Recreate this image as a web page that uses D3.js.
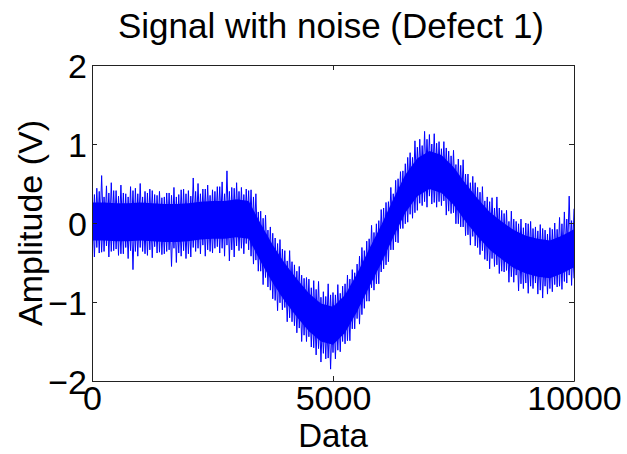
<!DOCTYPE html>
<html>
<head>
<meta charset="utf-8">
<script src="https://cdn.jsdelivr.net/npm/d3@7"></script>
<style>
  html, body { margin: 0; padding: 0; background: #fff; }
  svg { display: block; }
  text { font-family: "Liberation Sans", Arial, Helvetica, sans-serif; fill: #000; }
</style>
</head>
<body>
<svg id="chart" width="627" height="454"></svg>
<script>
// ---------------- data ----------------
const titleText = "Signal with noise (Defect 1)";
const xLabelText = "Data";
const yLabelText = "Amplitude (V)";
const xTicks = [0, 5000, 10000];
const yTicks = [-2, -1, 0, 1, 2];
const xDomain = [0, 10000];
const yDomain = [-2, 2];

// dense core of the noisy band, every 250 samples (0 ... 10000)
const coreSamples = d3.range(0, 10001, 250);
const coreUpper = [0.26,0.26,0.25,0.25,0.26,0.25,0.24,0.24,0.25,0.27,0.28,0.28,0.30,0.28,-0.01,-0.28,-0.51,-0.71,-0.89,-1.02,-1.06,-0.91,-0.64,-0.33,-0.03,0.30,0.61,0.82,0.91,0.86,0.71,0.50,0.31,0.14,0.02,-0.09,-0.16,-0.20,-0.22,-0.16,-0.08];
const coreLower = [-0.22,-0.22,-0.23,-0.23,-0.22,-0.23,-0.24,-0.24,-0.23,-0.21,-0.20,-0.20,-0.18,-0.20,-0.49,-0.76,-0.99,-1.19,-1.37,-1.50,-1.54,-1.39,-1.12,-0.81,-0.51,-0.18,0.13,0.34,0.43,0.38,0.23,0.02,-0.17,-0.34,-0.46,-0.57,-0.64,-0.68,-0.70,-0.64,-0.56];

// large noise peaks, every 100 samples (0 ... 10000)
const peakSamples = d3.range(0, 10001, 100);
const spikeHigh = [
  0.40,0.44,0.60,0.47,0.51,0.41,0.48,0.37,0.46,0.44,
  0.50,0.40,0.43,0.36,0.40,0.33,0.38,0.45,0.36,0.43,
  0.41,0.57,0.50,0.43,0.48,0.42,0.46,0.52,0.66,0.45,
  0.51,0.45,0.43,0.42,0.37,0.15,0.10,-0.05,-0.19,-0.21,
  -0.35,-0.35,-0.53,-0.55,-0.70,-0.71,-0.73,-0.74,-0.87,-0.77,
  -0.88,-0.78,-0.80,-0.66,-0.59,-0.52,-0.31,-0.23,-0.03,-0.01,
  0.17,0.26,0.45,0.54,0.65,0.75,0.89,1.04,1.06,1.16,
  1.12,1.13,1.03,1.03,0.91,0.92,0.81,0.80,0.62,0.59,
  0.45,0.46,0.33,0.32,0.33,0.16,0.16,0.15,0.02,0.05,
  0.00,0.02,-0.05,-0.02,-0.09,-0.06,0.00,0.07,0.14,0.34,0.18];
// small noise troughs at the same samples
const smallLow = [
  -0.34,-0.31,-0.37,-0.29,-0.36,-0.33,-0.39,-0.31,-0.35,-0.36,
  -0.31,-0.39,-0.34,-0.30,-0.37,-0.39,-0.34,-0.32,-0.38,-0.35,
  -0.39,-0.31,-0.32,-0.28,-0.34,-0.38,-0.30,-0.32,-0.28,-0.34,
  -0.29,-0.32,-0.26,-0.42,-0.47,-0.61,-0.69,-0.85,-0.98,-1.01,
  -1.07,-1.20,-1.30,-1.33,-1.42,-1.44,-1.58,-1.59,-1.65,-1.71,
  -1.64,-1.61,-1.50,-1.49,-1.34,-1.21,-1.16,-0.99,-0.82,-0.77,
  -0.62,-0.53,-0.34,-0.24,-0.07,-0.01,0.11,0.13,0.25,0.27,
  0.34,0.26,0.27,0.28,0.15,0.13,-0.01,-0.05,-0.15,-0.17,
  -0.31,-0.35,-0.48,-0.45,-0.53,-0.61,-0.60,-0.68,-0.66,-0.77,
  -0.76,-0.80,-0.76,-0.85,-0.80,-0.83,-0.78,-0.80,-0.74,-0.66,-0.70];

// samples half-way between (50 ... 9950)
const midSamples = d3.range(50, 10000, 100);
// large noise troughs
const spikeLow = [
  -0.43,-0.38,-0.36,-0.43,-0.35,-0.41,-0.39,-0.45,-0.59,-0.42,
  -0.36,-0.41,-0.44,-0.38,-0.40,-0.36,-0.55,-0.50,-0.42,-0.45,
  -0.43,-0.36,-0.39,-0.42,-0.36,-0.32,-0.38,-0.42,-0.48,-0.43,
  -0.35,-0.39,-0.34,-0.52,-0.61,-0.78,-0.81,-0.96,-1.11,-1.10,
  -1.25,-1.25,-1.39,-1.50,-1.50,-1.57,-1.67,-1.76,-1.72,-1.85,
  -1.72,-1.63,-1.53,-1.49,-1.34,-1.28,-1.08,-0.99,-0.85,-0.77,
  -0.58,-0.49,-0.34,-0.25,-0.07,0.01,0.06,0.16,0.22,0.20,
  0.24,0.20,0.22,0.10,0.12,-0.01,-0.05,-0.16,-0.28,-0.29,
  -0.40,-0.46,-0.58,-0.55,-0.64,-0.62,-0.75,-0.75,-0.86,-0.83,
  -0.89,-0.83,-0.90,-0.95,-0.90,-0.87,-0.81,-0.84,-0.76,-0.79];
// small noise peaks at the half-way samples
const smallHigh = [
  0.36,0.40,0.33,0.38,0.41,0.34,0.38,0.33,0.41,0.37,
  0.33,0.38,0.41,0.35,0.32,0.38,0.35,0.33,0.42,0.37,
  0.34,0.40,0.37,0.43,0.35,0.40,0.46,0.37,0.40,0.44,
  0.40,0.36,0.41,0.33,0.14,0.06,-0.09,-0.13,-0.26,-0.33,
  -0.48,-0.49,-0.61,-0.66,-0.69,-0.82,-0.84,-0.94,-0.93,-0.91,
  -0.91,-0.89,-0.77,-0.71,-0.63,-0.42,-0.35,-0.20,-0.12,0.03,
  0.19,0.27,0.37,0.56,0.66,0.83,0.83,0.96,0.98,1.06,
  1.00,1.01,0.94,0.95,0.85,0.74,0.73,0.62,0.51,0.51,
  0.39,0.28,0.27,0.19,0.19,0.12,0.02,0.05,-0.01,-0.06,
  -0.01,-0.07,-0.10,-0.07,-0.14,-0.08,-0.08,-0.01,0.05,0.03];

// ---------------- layout ----------------
const plot = { left: 92, right: 574, top: 65, bottom: 381 };
const lineColor = "#0000ff";

const svg = d3.select("#chart");
const x = d3.scaleLinear().domain(xDomain).range([plot.left, plot.right]);
const y = d3.scaleLinear().domain(yDomain).range([plot.bottom, plot.top]);

svg.append("defs").append("clipPath").attr("id", "clip")
  .append("rect")
  .attr("x", plot.left).attr("y", plot.top)
  .attr("width", plot.right - plot.left).attr("height", plot.bottom - plot.top);

const g = svg.append("g").attr("clip-path", "url(#clip)");

function zigzag(aSamples, aVals, bSamples, bVals) {
  const pts = [];
  aSamples.forEach((s, i) => {
    pts.push({ s, v: aVals[i] });
    if (i < bSamples.length) pts.push({ s: bSamples[i], v: bVals[i] });
  });
  return pts;
}
const lineGen = d3.line().x(d => x(d.s)).y(d => y(d.v));

// large-amplitude trace (tall spikes), drawn first
g.append("path")
  .datum(zigzag(peakSamples, spikeHigh, midSamples, spikeLow))
  .attr("fill", "none")
  .attr("stroke", lineColor)
  .attr("stroke-width", 1)
  .attr("d", lineGen);

// small-amplitude trace (ragged band edge)
g.append("path")
  .datum(zigzag(peakSamples, smallLow, midSamples, smallHigh))
  .attr("fill", "none")
  .attr("stroke", lineColor)
  .attr("stroke-width", 1)
  .attr("d", lineGen);

// solid core band on top
const core = coreSamples.map((s, i) => ({ s, hi: coreUpper[i], lo: coreLower[i] }));
g.append("path")
  .datum(core)
  .attr("fill", lineColor)
  .attr("stroke", "none")
  .attr("d", d3.area().x(d => x(d.s)).y0(d => y(d.lo)).y1(d => y(d.hi)));

// ---------------- axes ----------------
const tickLen = 5;
const fontTick = 34;

const axB = svg.append("g").attr("transform", `translate(0,${plot.bottom})`)
  .call(d3.axisBottom(x).tickValues(xTicks).tickFormat(d3.format("d")).tickSizeInner(-tickLen).tickSizeOuter(0).tickPadding(2));
const axT = svg.append("g").attr("transform", `translate(0,${plot.top})`)
  .call(d3.axisTop(x).tickValues(xTicks).tickFormat("").tickSizeInner(-tickLen).tickSizeOuter(0));
const axL = svg.append("g").attr("transform", `translate(${plot.left},0)`)
  .call(d3.axisLeft(y).tickValues(yTicks).tickFormat(d3.format("d")).tickSizeInner(-tickLen).tickSizeOuter(0).tickPadding(5));
const axR = svg.append("g").attr("transform", `translate(${plot.right},0)`)
  .call(d3.axisRight(y).tickValues(yTicks).tickFormat("").tickSizeInner(-tickLen).tickSizeOuter(0));

[axB, axT, axL, axR].forEach(a => {
  a.select(".domain").attr("stroke", "#222").attr("stroke-width", 1);
  a.selectAll(".tick line").attr("stroke", "#222").attr("stroke-width", 1);
  a.selectAll(".tick text").attr("font-size", fontTick).attr("fill", "#000")
    .style("font-family", '"Liberation Sans", Arial, sans-serif');
});
axB.selectAll(".tick text").attr("dy", "0.8em");
axL.selectAll(".tick text").attr("dy", "0.36em");

// ---------------- titles ----------------
svg.append("text")
  .attr("x", (plot.left + plot.right) / 2 - 2).attr("y", 38)
  .attr("text-anchor", "middle").attr("font-size", 35)
  .text(titleText);

svg.append("text")
  .attr("x", (plot.left + plot.right) / 2).attr("y", 447)
  .attr("text-anchor", "middle").attr("font-size", 33)
  .text(xLabelText);

svg.append("text")
  .attr("transform", `translate(42,${(plot.top + plot.bottom) / 2}) rotate(-90)`)
  .attr("text-anchor", "middle").attr("font-size", 34)
  .text(yLabelText);
</script>
</body>
</html>
